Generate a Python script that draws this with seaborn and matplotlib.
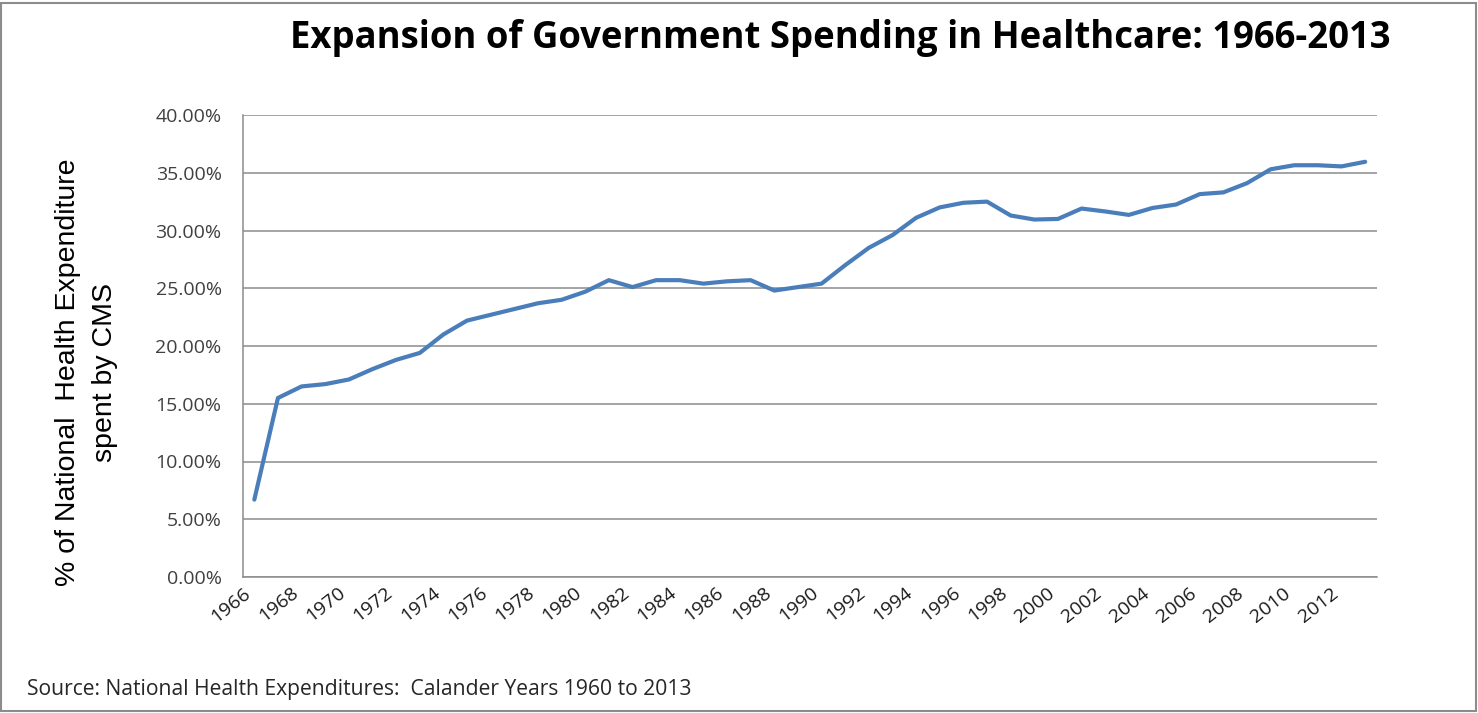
import matplotlib
matplotlib.use("Agg")
import matplotlib.pyplot as plt
from matplotlib import font_manager
from matplotlib.patches import Rectangle
from matplotlib.ticker import FixedLocator, FuncFormatter, NullFormatter
import numpy as np
import pandas as pd
import seaborn as sns

# CMS share of national health expenditure, calendar years 1966-2013 (percent)
years = list(range(1966, 2014))
cms_share = [
    6.7, 15.5, 16.5, 16.7, 17.1, 18.0, 18.8, 19.4, 21.0, 22.2,
    22.7, 23.2, 23.7, 24.0, 24.7, 25.7, 25.1, 25.7, 25.7, 25.4,
    25.6, 25.7, 24.8, 25.1, 25.4, 27.0, 28.5, 29.6, 31.1, 32.0,
    32.4, 32.5, 31.3, 30.95, 31.0, 31.9, 31.65, 31.35, 31.95, 32.25,
    33.15, 33.3, 34.1, 35.3, 35.65, 35.65, 35.55, 35.95,
]
y_ticks = [0, 5, 10, 15, 20, 25, 30, 35, 40]
label_years = years[::2]

title = "Expansion of Government Spending in Healthcare: 1966-2013"
y_label = "% of National  Health Expenditure\nspent by CMS"
source = "Source: National Health Expenditures:  Calander Years 1960 to 2013"

sns.set_theme(style="white")
installed = {f.name for f in font_manager.fontManager.ttflist}
narrow = "Liberation Sans Narrow" if "Liberation Sans Narrow" in installed else "Liberation Sans"
body = "Open Sans"
plt.rcParams["font.family"] = [body, "DejaVu Sans"]

W, H = 1478, 713
fig = plt.figure(figsize=(W / 100, H / 100), dpi=100)
fig.patch.set_facecolor("white")

left, right, top, bottom = 242.5, 1377.0, 115.0, 577.0
ax = fig.add_axes([left / W, 1 - bottom / H, (right - left) / W, (bottom - top) / H])

df = pd.DataFrame({"year": years, "share": cms_share})
sns.lineplot(data=df, x="year", y="share", ax=ax, color="#4A7EBB",
             linewidth=3.0, solid_joinstyle="round", solid_capstyle="round")

grid_col = "#8C8C8C"
ax.set_xlim(years[0] - 0.5, years[-1] + 0.5)
ax.set_ylim(y_ticks[0], y_ticks[-1])
ax.set_xlabel("")
ax.set_ylabel("")

# value axis
ax.yaxis.set_major_locator(FixedLocator(y_ticks))
ax.yaxis.set_major_formatter(FuncFormatter(lambda v, _: f"{v:.2f}%"))
ax.yaxis.grid(True, color=grid_col, linewidth=1.1)
ax.tick_params(axis="y", which="major", direction="out", length=7, width=1,
               color=grid_col, pad=8, labelsize=14, labelcolor="#404040")

# category axis: marks between years, every second year labelled
boundaries = np.arange(years[0] - 0.5, years[-1] + 1.0, 1.0)
ax.xaxis.set_major_locator(FixedLocator(boundaries))
ax.xaxis.set_major_formatter(NullFormatter())
ax.xaxis.set_minor_locator(FixedLocator(label_years))
ax.xaxis.set_minor_formatter(FuncFormatter(lambda v, _: f"{int(round(v))}"))
ax.tick_params(axis="x", which="major", direction="out", length=6, width=1, color=grid_col)
ax.tick_params(axis="x", which="minor", length=0, pad=5, labelsize=14, labelcolor="#1a1a1a")
for lab in ax.xaxis.get_minorticklabels():
    lab.set_rotation(38)
    lab.set_ha("right")
    lab.set_va("top")
ax.xaxis.grid(False)

for side in ("top", "right"):
    ax.spines[side].set_visible(False)
for side in ("left", "bottom"):
    ax.spines[side].set_color(grid_col)
    ax.spines[side].set_linewidth(1.1)

fig.text(840 / W, 1 - 38 / H, title, ha="center", va="center",
         fontsize=26.3, fontweight="bold", color="black")
fig.text(87 / W, 1 - 372 / H, y_label, rotation=90, ha="center", va="center",
         multialignment="center", fontsize=20.5, linespacing=1.55,
         family=[narrow, "DejaVu Sans"], color="black")
fig.text(27 / W, 1 - 690 / H, source, ha="left", va="center",
         fontsize=15.2, color="#262626")

fig.add_artist(Rectangle((1 / W, 2 / H), (1475 / W), (708 / H),
                         transform=fig.transFigure, fill=False,
                         edgecolor="#8C8C8C", linewidth=1.5))

fig.savefig("out.png", dpi=100, facecolor="white")
